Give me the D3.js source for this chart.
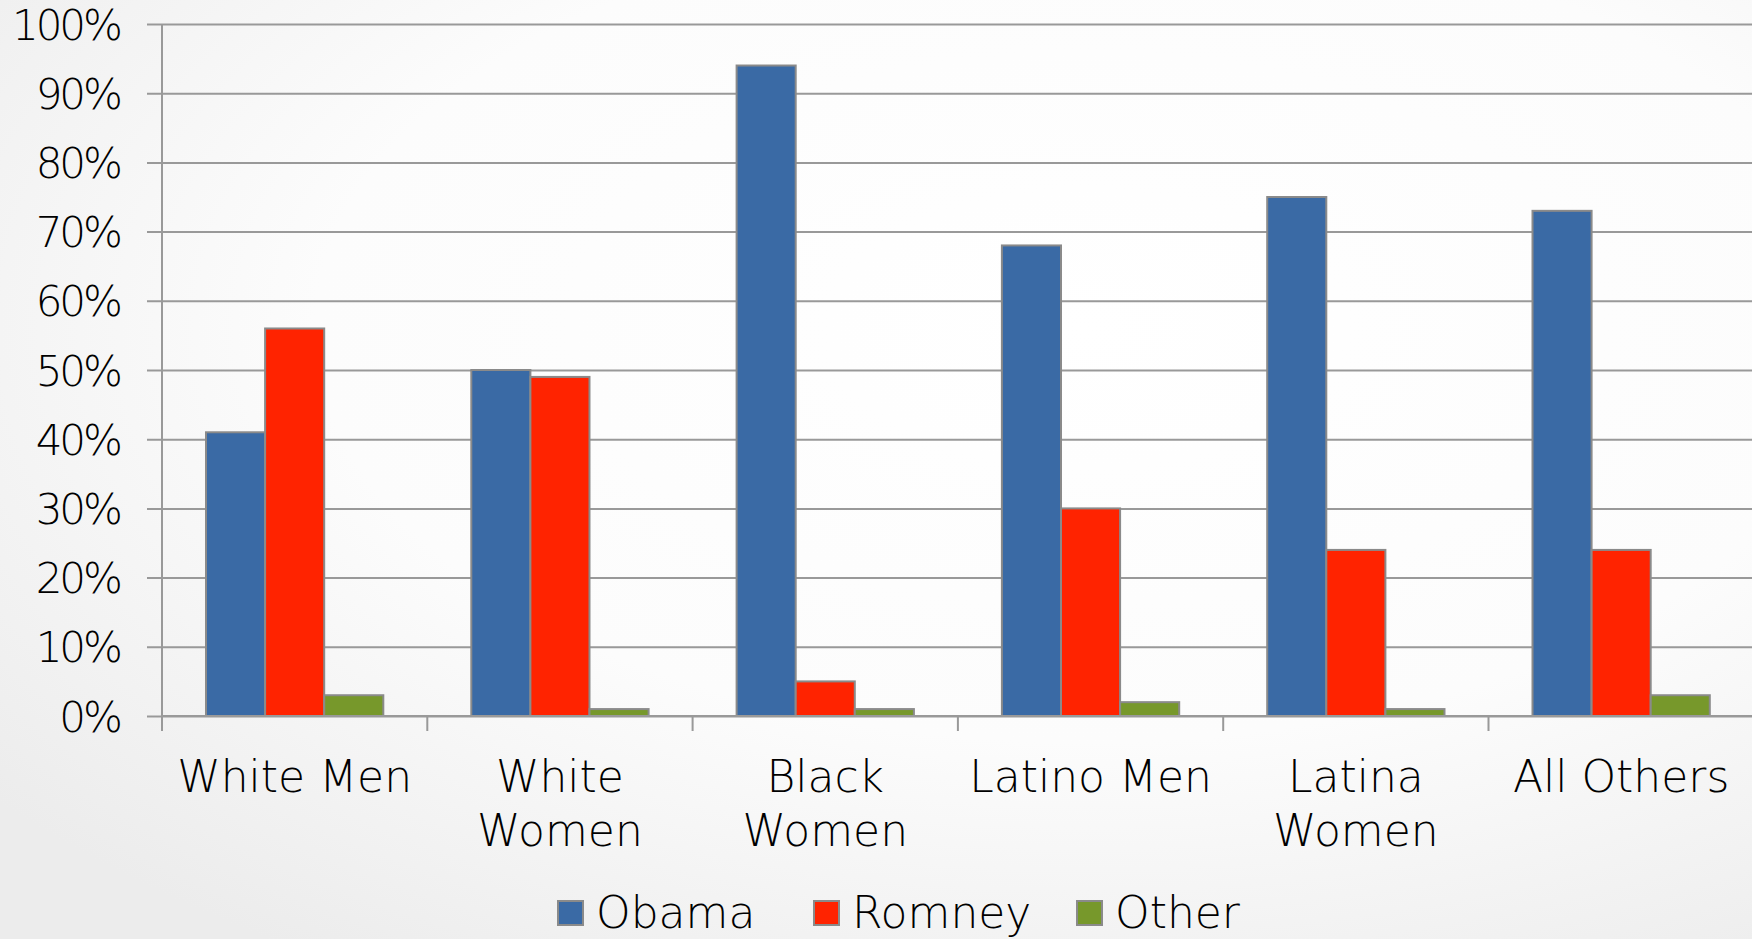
<!DOCTYPE html>
<html>
<head>
<meta charset="utf-8">
<script src="https://cdn.jsdelivr.net/npm/d3@7"></script>
<style>
  html, body { margin: 0; padding: 0; overflow: hidden; }
  svg { display: block; font-family: "DejaVu Sans", sans-serif; font-weight: 200; }
</style>
</head>
<body>
<div id="chart"></div>
<script>
const categories = ["White Men", "White Women", "Black Women", "Latino Men", "Latina Women", "All Others"];
const categoryLines = [["White Men"], ["White", "Women"], ["Black", "Women"], ["Latino Men"], ["Latina", "Women"], ["All Others"]];
const seriesNames = ["Obama", "Romney", "Other"];
const obama = [41, 50, 94, 68, 75, 73];
const romney = [56, 49, 5, 30, 24, 24];
const other = [3, 1, 1, 2, 1, 3];
const yTicks = [0, 10, 20, 30, 40, 50, 60, 70, 80, 90, 100];
const colors = ["#3a6aa5", "#ff2300", "#77982b"];

const w = 1752, h = 939;
const plotLeft = 162, plotTop = 24, plotBottom = 716;
const bandW = 265.3;

const svg = d3.select("#chart").append("svg")
    .attr("width", w)
    .attr("height", h);

// soft grey slide background
const grad = svg.append("defs").append("radialGradient")
    .attr("id", "bg").attr("cx", "62%").attr("cy", "35%").attr("r", "80%");
grad.append("stop").attr("offset", "0%").attr("stop-color", "#ffffff");
grad.append("stop").attr("offset", "55%").attr("stop-color", "#fcfcfc");
grad.append("stop").attr("offset", "100%").attr("stop-color", "#ececec");
svg.append("rect").attr("width", w).attr("height", h).attr("fill", "url(#bg)");

const yScale = d3.scaleLinear().domain([0, 100]).range([plotBottom, plotTop]);
const x0 = d3.scaleBand().domain(categories).range([plotLeft, plotLeft + bandW * categories.length]);
const pad = 44;
const x1 = d3.scaleBand().domain(seriesNames).range([pad, x0.bandwidth() - pad]);

// gridlines + y ticks
const yAxis = d3.axisLeft(yScale)
    .tickValues(yTicks)
    .tickSize(-(w - plotLeft))
    .tickPadding(30)
    .tickFormat(d => d + "%");
const gy = svg.append("g").attr("transform", "translate(" + plotLeft + ",0)").call(yAxis);
gy.select(".domain").remove();
gy.selectAll(".tick line").attr("x1", -15).attr("stroke", "#999").attr("stroke-width", 2);
gy.selectAll(".tick text").attr("fill", "#000").attr("font-size", 42)
    .attr("font-family", "DejaVu Sans").attr("font-weight", 200)
    .attr("letter-spacing", "-3px")
    .attr("x", -42).attr("dy", "0.36em");

// vertical axis line
svg.append("line")
    .attr("x1", plotLeft).attr("x2", plotLeft)
    .attr("y1", yScale(100)).attr("y2", plotBottom)
    .attr("stroke", "#999").attr("stroke-width", 2);

// bars
const rows = categories.map((c, i) => ({ cat: c, vals: [obama[i], romney[i], other[i]] }));
const groups = svg.append("g").selectAll("g")
    .data(rows).join("g")
    .attr("transform", d => "translate(" + x0(d.cat) + ",0)");
groups.selectAll("rect")
    .data(d => d.vals.map((v, j) => ({ name: seriesNames[j], v: v, j: j })))
    .join("rect")
    .attr("x", d => x1(d.name))
    .attr("width", x1.bandwidth())
    .attr("y", d => yScale(d.v))
    .attr("height", d => plotBottom - yScale(d.v))
    .attr("fill", d => colors[d.j])
    .attr("stroke", "#8a8a8a")
    .attr("stroke-width", 2);

// x axis baseline and ticks
const xAxis = d3.axisBottom(x0).tickSize(0).tickFormat("");
const gx = svg.append("g").attr("transform", "translate(0," + plotBottom + ")").call(xAxis);
gx.select(".domain").attr("stroke", "#999").attr("stroke-width", 2)
    .attr("d", "M" + plotLeft + ",0H" + w);
gx.selectAll(".tick").remove();
const bounds = d3.range(categories.length + 1).map(i => plotLeft + i * x0.step());
gx.selectAll(".sep").data(bounds).join("line")
    .attr("x1", d => d).attr("x2", d => d)
    .attr("y1", 0).attr("y2", 15)
    .attr("stroke", "#999").attr("stroke-width", 2);

// category labels
svg.append("g").selectAll("text")
    .data(categories).join("text")
    .attr("x", d => x0(d) + x0.bandwidth() / 2)
    .attr("y", 792)
    .attr("text-anchor", "middle")
    .attr("font-size", 44)
    .attr("fill", "#000")
    .each(function(d, i) {
        d3.select(this).selectAll("tspan")
            .data(categoryLines[i]).join("tspan")
            .attr("x", x0(d) + x0.bandwidth() / 2)
            .attr("dy", (t, k) => k === 0 ? 0 : 54)
            .text(t => t);
    });

// legend
const legendX = [558, 814, 1077];
const legend = svg.append("g").selectAll("g")
    .data(seriesNames).join("g")
    .attr("transform", (d, i) => "translate(" + legendX[i] + ",901)");
legend.append("rect")
    .attr("width", 25).attr("height", 24)
    .attr("fill", (d, i) => colors[i])
    .attr("stroke", "#8a8a8a").attr("stroke-width", 2);
legend.append("text")
    .attr("x", 38).attr("y", 27)
    .attr("font-size", 44)
    .attr("fill", "#000")
    .text(d => d);
</script>
</body>
</html>
